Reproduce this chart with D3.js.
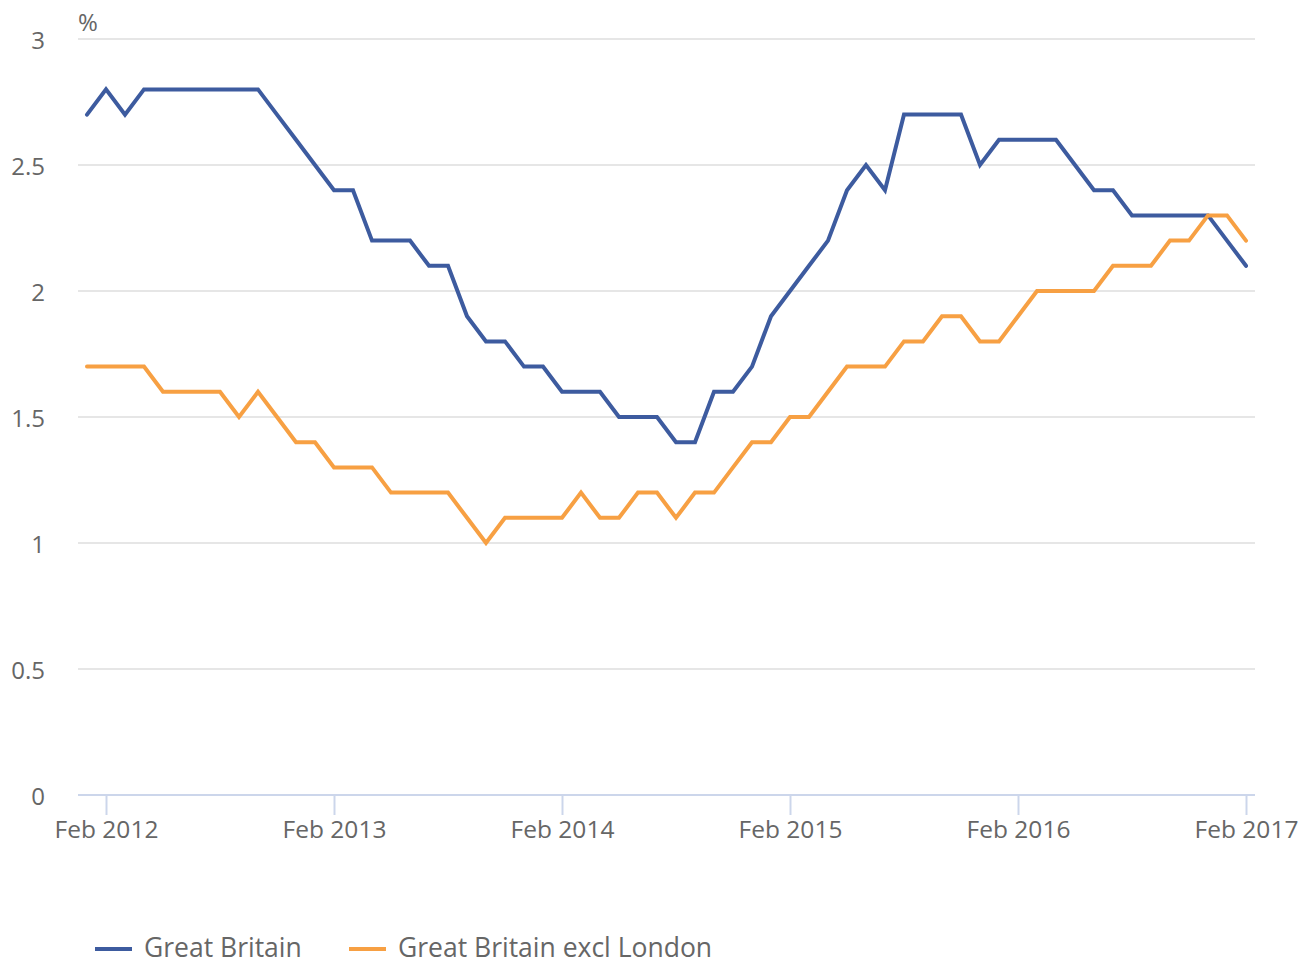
<!DOCTYPE html>
<html>
<head>
<meta charset="utf-8">
<script src="https://cdn.jsdelivr.net/npm/d3@7"></script>
<style>
  body { margin: 0; background: #fff; }
  svg { font-family: "Open Sans", sans-serif; }
</style>
</head>
<body>
<svg id="chart" width="1309" height="965"></svg>
<script>
// monthly, Jan 2012 .. Feb 2017
const months = d3.range(62).map(i => new Date(2012, i, 1));

const greatBritain = [
  2.7, 2.8, 2.7, 2.8, 2.8, 2.8, 2.8, 2.8, 2.8, 2.8,
  2.7, 2.6, 2.5, 2.4, 2.4, 2.2, 2.2, 2.2, 2.1, 2.1,
  1.9, 1.8, 1.8, 1.7, 1.7, 1.6, 1.6, 1.6, 1.5, 1.5,
  1.5, 1.4, 1.4, 1.6, 1.6, 1.7, 1.9, 2.0, 2.1, 2.2,
  2.4, 2.5, 2.4, 2.7, 2.7, 2.7, 2.7, 2.5, 2.6, 2.6,
  2.6, 2.6, 2.5, 2.4, 2.4, 2.3, 2.3, 2.3, 2.3, 2.3,
  2.2, 2.1
];

const gbExclLondon = [
  1.7, 1.7, 1.7, 1.7, 1.6, 1.6, 1.6, 1.6, 1.5, 1.6,
  1.5, 1.4, 1.4, 1.3, 1.3, 1.3, 1.2, 1.2, 1.2, 1.2,
  1.1, 1.0, 1.1, 1.1, 1.1, 1.1, 1.2, 1.1, 1.1, 1.2,
  1.2, 1.1, 1.2, 1.2, 1.3, 1.4, 1.4, 1.5, 1.5, 1.6,
  1.7, 1.7, 1.7, 1.8, 1.8, 1.9, 1.9, 1.8, 1.8, 1.9,
  2.0, 2.0, 2.0, 2.0, 2.1, 2.1, 2.1, 2.2, 2.2, 2.3,
  2.3, 2.2
];

const yTicks = [0, 0.5, 1, 1.5, 2, 2.5, 3];
const xTickIdx = [1, 13, 25, 37, 49, 61];

const series = [
  {name: "Great Britain", values: greatBritain, color: "#3d5b9f"},
  {name: "Great Britain excl London", values: gbExclLondon, color: "#f7a043"}
];

const svg = d3.select("#chart");
const plotLeft = 78, plotRight = 1255, plotTop = 39, plotBottom = 795;

const x = d3.scaleLinear().domain([0, months.length - 1]).range([87, 1246]);
const y = d3.scaleLinear().domain([0, 3]).range([plotBottom, plotTop]);

const fmtMonth = d3.timeFormat("%b %Y");
const textColor = "#666";

// grid
svg.append("g")
  .selectAll("line")
  .data(yTicks.filter(d => d > 0))
  .join("line")
  .attr("x1", plotLeft).attr("x2", plotRight)
  .attr("y1", d => y(d)).attr("y2", d => y(d))
  .attr("stroke", "#e6e6e6").attr("stroke-width", 2);

// y labels
svg.append("g")
  .selectAll("text")
  .data(yTicks)
  .join("text")
  .attr("x", 45)
  .attr("y", d => y(d))
  .attr("dy", "0.42em")
  .attr("text-anchor", "end")
  .attr("font-size", 24)
  .attr("fill", textColor)
  .text(d => d);

svg.append("text")
  .attr("x", 78).attr("y", 31)
  .attr("font-size", 24)
  .attr("fill", textColor)
  .text("%");

// x axis
const xAxis = d3.axisBottom(x)
  .tickValues(xTickIdx)
  .tickSize(20)
  .tickFormat(i => fmtMonth(months[i]));

const gx = svg.append("g")
  .attr("transform", "translate(0," + plotBottom + ")")
  .call(xAxis);
gx.select(".domain").remove();
gx.selectAll(".tick line").attr("stroke", "#ccd6eb").attr("stroke-width", 2);
gx.selectAll(".tick text")
  .attr("y", 34)
  .attr("dy", "0.38em")
  .attr("font-family", "Open Sans, sans-serif")
  .attr("font-size", 24.5)
  .attr("fill", textColor);
gx.append("line")
  .attr("x1", plotLeft).attr("x2", plotRight)
  .attr("y1", 0).attr("y2", 0)
  .attr("stroke", "#ccd6eb").attr("stroke-width", 2);

// lines
const line = d3.line()
  .x((d, i) => x(i))
  .y(d => y(d));

svg.append("g")
  .selectAll("path")
  .data(series)
  .join("path")
  .attr("d", d => line(d.values))
  .attr("fill", "none")
  .attr("stroke", d => d.color)
  .attr("stroke-width", 4)
  .attr("stroke-linejoin", "miter")
  .attr("stroke-linecap", "round");

// legend
const legendX = [95, 349];
const legend = svg.append("g")
  .selectAll("g")
  .data(series)
  .join("g")
  .attr("transform", (d, i) => "translate(" + legendX[i] + ",949)");
legend.append("line")
  .attr("x1", 0).attr("x2", 37)
  .attr("stroke", d => d.color)
  .attr("stroke-width", 4);
legend.append("text")
  .attr("x", 49)
  .attr("dy", "0.3em")
  .attr("font-size", 26.5)
  .attr("fill", textColor)
  .text(d => d.name);
</script>
</body>
</html>
